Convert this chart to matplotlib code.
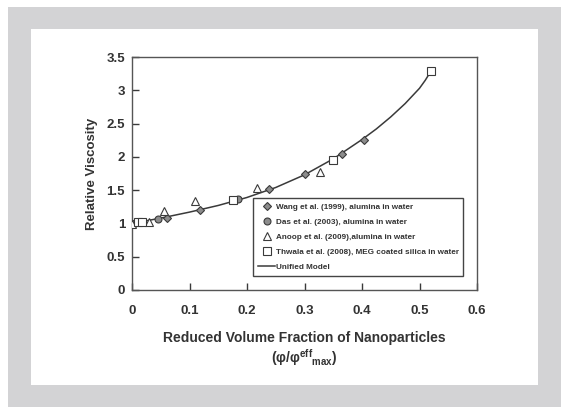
import matplotlib.pyplot as plt
from matplotlib.patches import Rectangle
from matplotlib.ticker import FuncFormatter

plt.rcParams['font.family'] = ['Liberation Sans', 'DejaVu Sans']
plt.rcParams['font.weight'] = 'bold'
plt.rcParams['axes.labelweight'] = 'bold'
plt.rcParams['mathtext.fontset'] = 'custom'
plt.rcParams['mathtext.rm'] = 'Liberation Sans:bold'
plt.rcParams['mathtext.it'] = 'Liberation Sans:bold'
plt.rcParams['mathtext.bf'] = 'Liberation Sans:bold'

# data
wang_x = [0.06, 0.119, 0.239, 0.300, 0.366, 0.403]
wang_y = [1.08, 1.20, 1.51, 1.75, 2.04, 2.26]

das_x = [0.005, 0.046, 0.185]
das_y = [1.01, 1.07, 1.36]

anoop_x = [0.0, 0.029, 0.056, 0.110, 0.217, 0.327]
anoop_y = [0.99, 1.02, 1.19, 1.33, 1.53, 1.77]

thwala_x = [0.011, 0.017, 0.175, 0.349, 0.520]
thwala_y = [1.02, 1.02, 1.35, 1.96, 3.29]

model_x = [0.0, 0.05, 0.10, 0.15, 0.20, 0.25, 0.30, 0.35, 0.40, 0.425,
           0.45, 0.475, 0.50, 0.51, 0.52]
model_y = [1.0, 1.08, 1.17, 1.27, 1.39, 1.54, 1.73, 1.97, 2.26, 2.42,
           2.60, 2.80, 3.03, 3.15, 3.29]

dark = '#3a3a3a'
fill = '#8c8c8c'

fig = plt.figure(figsize=(5.68, 4.07), dpi=100)
fig.patches.append(Rectangle((8 / 568, 0), 553 / 568, 400 / 407,
                             transform=fig.transFigure, facecolor='#d3d3d5',
                             edgecolor='none', zorder=-2))
fig.patches.append(Rectangle((31 / 568, 22 / 407), 507 / 568, 356 / 407,
                             transform=fig.transFigure, facecolor='white',
                             edgecolor='none', zorder=-1))

ax = fig.add_axes([132 / 568, 117 / 407, 345 / 568, 233 / 407])
ax.set_zorder(2)

ax.plot(model_x, model_y, color=dark, lw=1.1, label='Unified Model', zorder=2)
ax.plot(wang_x, wang_y, ls='none', marker='D', ms=4.2, mfc=fill, mec=dark, mew=0.8,
        label='Wang et al. (1999), alumina in water', zorder=3)
ax.plot(das_x, das_y, ls='none', marker='o', ms=5, mfc=fill, mec=dark, mew=0.8,
        label='Das et al. (2003), alumina in water', zorder=3)
ax.plot(anoop_x, anoop_y, ls='none', marker='^', ms=6, mfc='white', mec=dark, mew=0.8,
        label='Anoop et al. (2009),alumina in water', zorder=3)
ax.plot(thwala_x, thwala_y, ls='none', marker='s', ms=5.5, mfc='white', mec=dark, mew=0.8,
        label='Thwala et al. (2008), MEG coated silica in water', zorder=3)

ax.set_xlim(0, 0.6)
ax.set_ylim(0, 3.5)
ax.set_xticks([0, 0.1, 0.2, 0.3, 0.4, 0.5, 0.6])
ax.set_yticks([0, 0.5, 1, 1.5, 2, 2.5, 3, 3.5])
fmt = FuncFormatter(lambda v, p: '{:g}'.format(round(v, 2)))
ax.xaxis.set_major_formatter(fmt)
ax.yaxis.set_major_formatter(fmt)
ax.tick_params(direction='in', length=5, width=1, color=dark, labelsize=9.5,
               labelcolor='#333333')
ax.tick_params(axis='x', pad=11)
ax.tick_params(axis='y', pad=5)
for s in ax.spines.values():
    s.set_color('#555555')
    s.set_linewidth(1)

ax.set_ylabel('Relative Viscosity', fontsize=9.5, color='#333333', labelpad=6)
fig.text(304 / 568, 1 - 338 / 407, 'Reduced Volume Fraction of Nanoparticles',
         ha='center', va='center', fontsize=10, color='#333333')
fig.text(304 / 568, 1 - 358 / 407, r'(φ/φ$^{eff}{}_{max}$)',
         ha='center', va='center', fontsize=10, color='#333333')

handles, labels = ax.get_legend_handles_labels()
order = [1, 2, 3, 4, 0]
leg = ax.legend([handles[i] for i in order], [labels[i] for i in order],
                loc='upper left', bbox_to_anchor=(0.351, 0.043, 0.608, 0.352),
                mode='expand', fontsize=5.9, labelspacing=0.9, handlelength=2.1,
                handletextpad=0.1, borderpad=0.6, fancybox=False, framealpha=1,
                edgecolor='#444444', borderaxespad=0)
leg.get_frame().set_linewidth(1)
for t in leg.get_texts():
    t.set_color('#333333')

plt.savefig('out.png', dpi=100)
